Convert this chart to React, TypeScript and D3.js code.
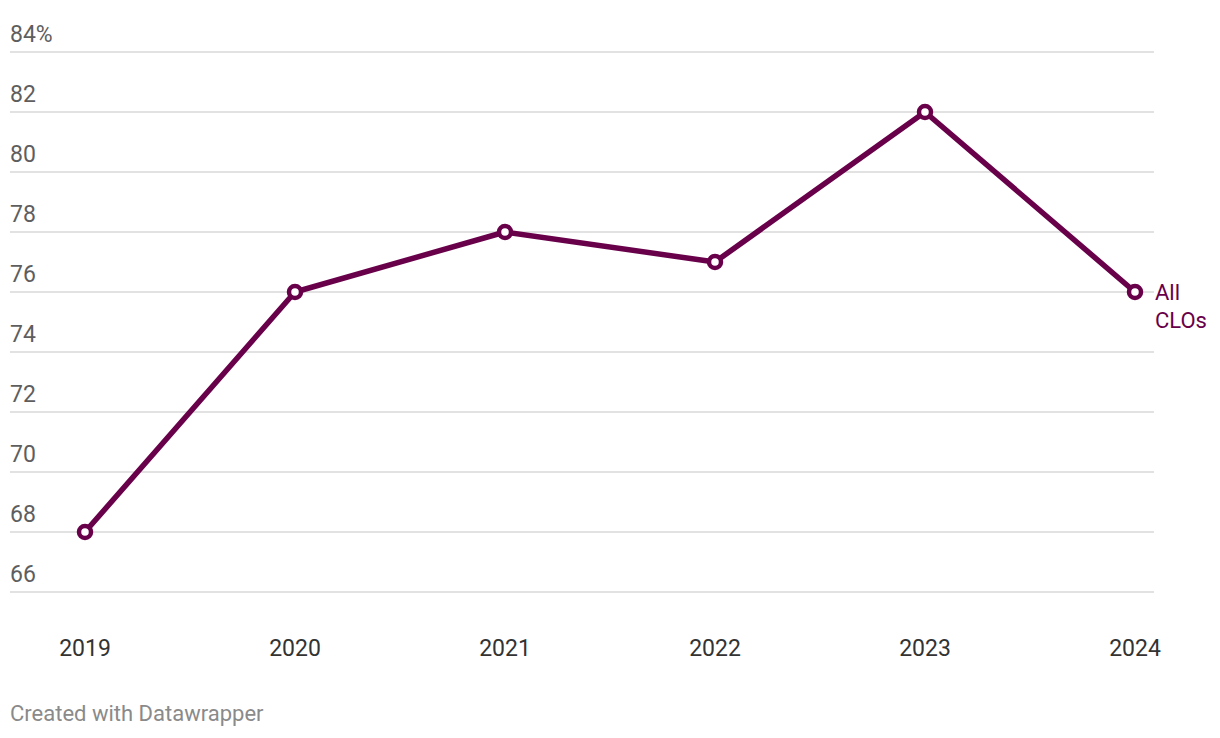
import * as d3 from "d3";
import { useEffect, useRef } from "react";

// Share of something for all CLOs, by year
const years = ["2019", "2020", "2021", "2022", "2023", "2024"];
const values = [68, 76, 78, 77, 82, 76];
const yTicks = [66, 68, 70, 72, 74, 76, 78, 80, 82, 84];
const seriesLabel = ["All", "CLOs"];

const WIDTH = 1220;
const HEIGHT = 738;
const COLOR = "#69004a";
const FONT = "Roboto, 'Noto Sans', sans-serif";

const App = () => {
  const svgRef = useRef<SVGSVGElement>(null);

  useEffect(() => {
    const svg = d3.select(svgRef.current);
    svg.selectAll("*").remove();

    const x = d3.scalePoint<string>().domain(years).range([85, 1135]);
    const y = d3.scaleLinear().domain([66, 84]).range([592, 52]);

    // gridlines + y labels
    const grid = svg.append("g");
    yTicks.forEach((t, i) => {
      grid
        .append("line")
        .attr("x1", 10)
        .attr("x2", 1154)
        .attr("y1", y(t))
        .attr("y2", y(t))
        .attr("stroke", "#d9d9d9")
        .attr("stroke-width", 1.3);
      grid
        .append("text")
        .attr("x", 10)
        .attr("y", y(t) - 10)
        .attr("fill", "#5e5e5e")
        .attr("font-size", 23)
        .attr("font-family", FONT)
        .text(i === yTicks.length - 1 ? `${t}%` : `${t}`);
    });

    // x labels
    years.forEach((yr) => {
      svg
        .append("text")
        .attr("x", x(yr)!)
        .attr("y", 656)
        .attr("text-anchor", "middle")
        .attr("fill", "#333")
        .attr("font-size", 23)
        .attr("font-family", FONT)
        .text(yr);
    });

    const pts = years.map((yr, i) => ({ year: yr, value: values[i] }));

    svg
      .append("path")
      .datum(pts)
      .attr("fill", "none")
      .attr("stroke", COLOR)
      .attr("stroke-width", 5.5)
      .attr("stroke-linejoin", "round")
      .attr(
        "d",
        d3
          .line<{ year: string; value: number }>()
          .x((d) => x(d.year)!)
          .y((d) => y(d.value))
      );

    pts.forEach((d) => {
      svg
        .append("circle")
        .attr("cx", x(d.year)!)
        .attr("cy", y(d.value))
        .attr("r", 6)
        .attr("fill", "white")
        .attr("stroke", COLOR)
        .attr("stroke-width", 4.5);
    });

    // series label
    const last = pts[pts.length - 1];
    const lbl = svg
      .append("text")
      .attr("x", x(last.year)! + 20)
      .attr("y", y(last.value) + 8)
      .attr("fill", COLOR)
      .attr("font-size", 22)
      .attr("font-family", FONT);
    seriesLabel.forEach((s, i) => {
      lbl
        .append("tspan")
        .attr("x", x(last.year)! + 20)
        .attr("dy", i === 0 ? 0 : 28)
        .text(s);
    });

    svg
      .append("text")
      .attr("x", 10)
      .attr("y", 721)
      .attr("fill", "#8a8a8a")
      .attr("font-size", 22)
      .attr("font-family", FONT)
      .text("Created with Datawrapper");
  }, []);

  return (
    <svg
      ref={svgRef}
      width={WIDTH}
      height={HEIGHT}
      style={{ position: "absolute", left: 0, top: 0, background: "white" }}
    />
  );
};

export default App;
